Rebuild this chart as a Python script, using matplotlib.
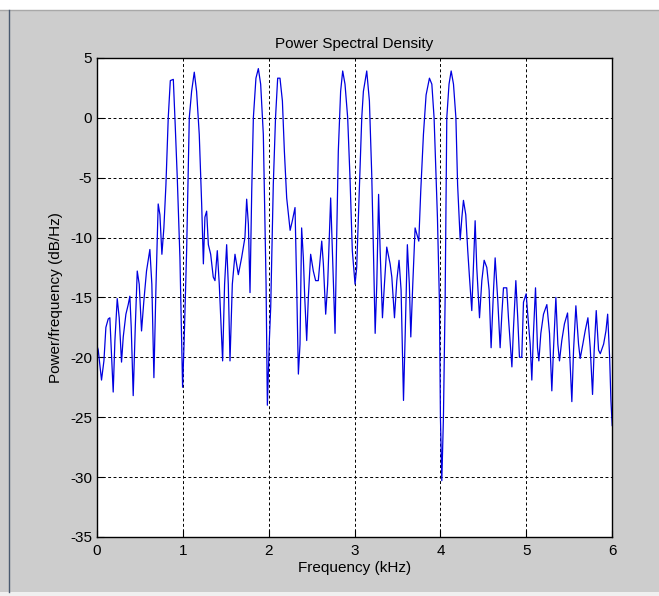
import matplotlib
matplotlib.use("Agg")
from matplotlib import pyplot as plt   # noqa: E402
from matplotlib.patches import Rectangle  # noqa: E402

plt.rcParams["font.family"] = ["Liberation Sans", "DejaVu Sans"]
plt.rcParams["axes.unicode_minus"] = False

# Welch PSD estimate, frequency in kHz and power in dB/Hz
freq_khz = [
    0.000, 0.016, 0.054, 0.082, 0.105, 0.132, 0.151, 0.190, 0.210, 0.237,
    0.260, 0.287, 0.307, 0.338, 0.365, 0.384, 0.400, 0.423, 0.447, 0.470,
    0.493, 0.520, 0.547, 0.578, 0.617, 0.640, 0.664, 0.687, 0.714, 0.734,
    0.757, 0.780, 0.804, 0.831, 0.855, 0.890, 0.912, 0.936, 0.967, 0.998,
    1.015, 1.045, 1.076, 1.103, 1.134, 1.161, 1.192, 1.220, 1.240, 1.258,
    1.278, 1.298, 1.325, 1.355, 1.375, 1.402, 1.425, 1.464, 1.487, 1.511,
    1.530, 1.550, 1.577, 1.608, 1.647, 1.685, 1.724, 1.744, 1.764, 1.783,
    1.803, 1.822, 1.852, 1.880, 1.907, 1.938, 1.970, 1.985, 2.008, 2.024,
    2.054, 2.080, 2.105, 2.132, 2.160, 2.183, 2.210, 2.250, 2.276, 2.307,
    2.326, 2.346, 2.365, 2.384, 2.404, 2.420, 2.443, 2.462, 2.489, 2.520,
    2.547, 2.578, 2.618, 2.637, 2.664, 2.687, 2.722, 2.745, 2.773, 2.792,
    2.811, 2.838, 2.862, 2.889, 2.920, 2.947, 2.974, 3.006, 3.025, 3.045,
    3.084, 3.103, 3.142, 3.173, 3.200, 3.220, 3.240, 3.259, 3.280, 3.298,
    3.325, 3.348, 3.375, 3.414, 3.434, 3.465, 3.492, 3.518, 3.542, 3.570,
    3.590, 3.615, 3.638, 3.655, 3.678, 3.705, 3.725, 3.748, 3.771, 3.802,
    3.833, 3.872, 3.900, 3.926, 3.965, 3.988, 4.000, 4.016, 4.035, 4.055,
    4.074, 4.100, 4.125, 4.152, 4.180, 4.200, 4.230, 4.250, 4.268, 4.295,
    4.318, 4.338, 4.365, 4.384, 4.404, 4.423, 4.455, 4.482, 4.509, 4.540,
    4.567, 4.590, 4.618, 4.637, 4.668, 4.695, 4.715, 4.734, 4.772, 4.792,
    4.832, 4.851, 4.878, 4.900, 4.920, 4.947, 4.967, 4.998, 5.025, 5.045,
    5.064, 5.083, 5.107, 5.130, 5.146, 5.169, 5.200, 5.239, 5.270, 5.297,
    5.316, 5.344, 5.367, 5.386, 5.413, 5.444, 5.480, 5.503, 5.530, 5.550,
    5.577, 5.608, 5.627, 5.658, 5.685, 5.717, 5.744, 5.771, 5.790, 5.814,
    5.841, 5.861, 5.900, 5.927, 5.947, 5.970, 5.985, 6.000,
]
psd_db = [
    -19.0, -19.4, -21.9, -20.3, -17.5, -16.8, -16.7, -22.9, -18.6, -15.1,
    -16.7, -20.4, -18.3, -16.4, -15.6, -14.9, -17.5, -23.2, -17.5, -12.8,
    -13.9, -17.8, -15.3, -12.8, -11.0, -13.9, -21.7, -14.4, -7.2, -8.1,
    -11.4, -9.2, -5.6, 0.0, 3.1, 3.2, -0.6, -5.0, -11.7, -22.5,
    -18.9, -11.1, 0.0, 2.2, 3.8, 2.2, -1.4, -7.2, -12.2, -8.3,
    -7.8, -10.6, -11.4, -13.3, -13.6, -11.1, -13.9, -20.3, -13.9, -10.6,
    -13.9, -20.3, -13.9, -11.4, -13.1, -11.7, -10.0, -6.8, -8.9, -14.6,
    -6.1, 0.0, 3.3, 4.1, 2.8, -1.4, -13.9, -24.0, -18.6, -15.8,
    -5.6, 0.0, 3.3, 3.3, 1.4, -2.8, -6.7, -9.4, -8.6, -7.5,
    -13.9, -21.4, -18.9, -9.2, -11.7, -15.0, -18.6, -15.0, -11.4, -12.8,
    -13.6, -13.6, -10.3, -12.2, -16.4, -13.9, -6.7, -11.9, -18.0, -10.0,
    -2.8, 2.2, 3.9, 2.8, 0.0, -5.0, -11.1, -13.9, -12.5, -8.3,
    0.0, 2.2, 3.9, 1.4, -4.7, -11.1, -18.0, -13.9, -6.4, -11.1,
    -16.7, -13.9, -10.8, -12.2, -13.3, -16.7, -13.6, -11.9, -14.4, -23.6,
    -18.0, -10.6, -13.9, -18.3, -13.9, -9.2, -9.7, -10.3, -6.1, -1.4,
    1.9, 3.3, 2.8, 0.0, -8.3, -15.3, -25.0, -30.3, -25.0, -15.0,
    0.0, 2.8, 3.9, 2.8, 0.0, -5.6, -10.2, -8.3, -6.9, -8.1,
    -11.1, -13.3, -16.1, -12.5, -8.6, -12.5, -16.7, -13.6, -11.9, -12.5,
    -14.4, -19.2, -14.4, -11.7, -15.3, -19.2, -16.4, -14.2, -14.2, -16.7,
    -20.8, -17.5, -13.6, -16.7, -20.0, -20.0, -15.4, -14.7, -17.2, -18.9,
    -21.9, -18.0, -14.2, -19.2, -20.3, -18.0, -16.4, -15.6, -18.0, -22.8,
    -19.4, -15.0, -18.9, -20.3, -18.6, -17.2, -16.3, -19.4, -23.7, -19.4,
    -15.7, -18.9, -20.1, -18.9, -17.8, -16.7, -19.2, -23.1, -19.4, -16.1,
    -19.4, -19.7, -18.9, -17.8, -16.4, -20.0, -23.6, -25.7,
]

x_ticks = [0, 1, 2, 3, 4, 5, 6]
y_ticks = [-35, -30, -25, -20, -15, -10, -5, 0, 5]

fig = plt.figure(figsize=(6.59, 5.96), dpi=100, facecolor="#cdcdcd")

# window chrome: white strips top and bottom, thin dark edge on the left
fig.patches.append(Rectangle((0, 0.983), 1, 0.017, transform=fig.transFigure,
                             facecolor="white", edgecolor="none", zorder=0))
fig.patches.append(Rectangle((0, 0), 1, 0.006, transform=fig.transFigure,
                             facecolor="#f0f0f0", edgecolor="none", zorder=0))
fig.lines.append(plt.Line2D([0.0, 1.0], [0.983, 0.983], transform=fig.transFigure,
                            color="#a8a8a8", lw=1.0))
fig.lines.append(plt.Line2D([0.014, 0.014], [0.006, 0.983], transform=fig.transFigure,
                            color="#4a5a70", lw=1.0))

ax = fig.add_axes([0.147, 0.099, 0.782, 0.804])
ax.set_facecolor("white")
ax.plot(freq_khz, psd_db, color="#0000e0", lw=0.9)

ax.set_xlim(0, 6)
ax.set_ylim(-35, 5)
ax.set_xticks(x_ticks)
ax.set_yticks(y_ticks)
ax.grid(True, color="black", linestyle=(0, (3, 2.5)), lw=0.7)
ax.tick_params(direction="in", length=5, labelsize=11, colors="black")
ax.tick_params(axis="x", pad=5)
ax.tick_params(axis="y", pad=3.5)
for spine in ax.spines.values():
    spine.set_linewidth(1.0)

ax.set_title("Power Spectral Density", fontsize=11, pad=7)
ax.set_xlabel("Frequency (kHz)", fontsize=11, labelpad=2)
ax.set_ylabel("Power/frequency (dB/Hz)", fontsize=11, labelpad=5)

fig.savefig("out.png", dpi=100, facecolor=fig.get_facecolor())
